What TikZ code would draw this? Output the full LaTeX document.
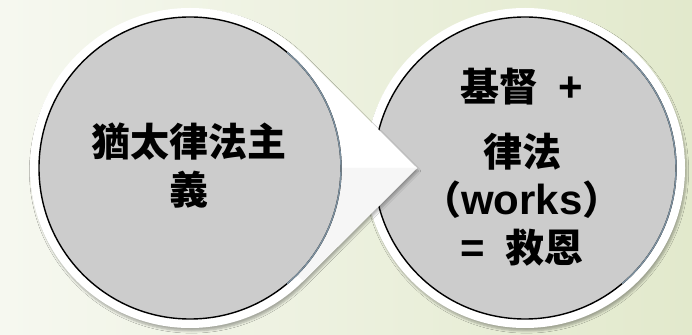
\documentclass[tikz,border=0pt]{standalone}
\usepackage{fontspec}
\setmainfont{Liberation Sans}
\newfontfamily\cjk{Noto Sans CJK TC}
\usetikzlibrary{calc}
\usetikzlibrary{positioning}
\usetikzlibrary{shadows.blur}
\definecolor{bgleft}{RGB}{246,248,240}
\definecolor{bgright}{RGB}{226,233,204}
\definecolor{discgray}{RGB}{204,204,204}
\definecolor{rimblue}{RGB}{125,145,160}
\newcommand\lat[1]{{\rmfamily\bfseries\fontsize{42}{48}\selectfont #1}}
\tikzset{
ring/.style={fill=white,
  blur shadow={shadow xshift=1.5pt, shadow yshift=-3pt,
    shadow blur steps=6, shadow opacity=30}},
disc/.style={fill=discgray, draw=black, line width=1.4pt},
rim/.style={draw=rimblue, line width=1.4pt},
txt/.style={font=\fontsize{39}{48}\selectfont\cjk\bfseries,
  align=center, text=black, inner sep=0pt},
}
\begin{document}
\begin{tikzpicture}[x=1pt,y=1pt]

  % background
  \shade [left color=bgleft, right color=bgright] (0,0) rectangle (692,334);
  \useasboundingbox (0,0) rectangle (692,334);

  \coordinate (lc) at (190,166);
  \coordinate (rc) at (525,166);
  \coordinate (tip) at (417,166);

  % right circle
  \fill [ring] (rc) circle [radius=160pt];
  \draw [disc] (rc) circle [radius=151pt];
  \draw [rim] ($(rc)+(-50:151pt)$) arc [start angle=-50, end angle=50, radius=151pt];

  % left circle with pointer
  \fill [ring] (tip) -- ($(lc)+(45:160pt)$)
    arc [start angle=45, end angle=315, radius=160pt] -- cycle;
  \fill [gray!7] (tip) -- (lc) -- ($(lc)+(-45:160pt)$) -- cycle;
  \draw [disc] (lc) circle [radius=151pt];
  \draw [rim] ($(lc)+(-50:151pt)$) arc [start angle=-50, end angle=50, radius=151pt];

  % Nodes
  \node [txt] (law) at (189,168) {猶太律法主\\義};
  \node [txt] (grace) at (522,167)
    {基督\hspace{0.5em}\lat{+}\\[17pt]律法\\（\lat{works}）\\\lat{=}\hspace{0.5em}救恩};
\end{tikzpicture}
\end{document}
